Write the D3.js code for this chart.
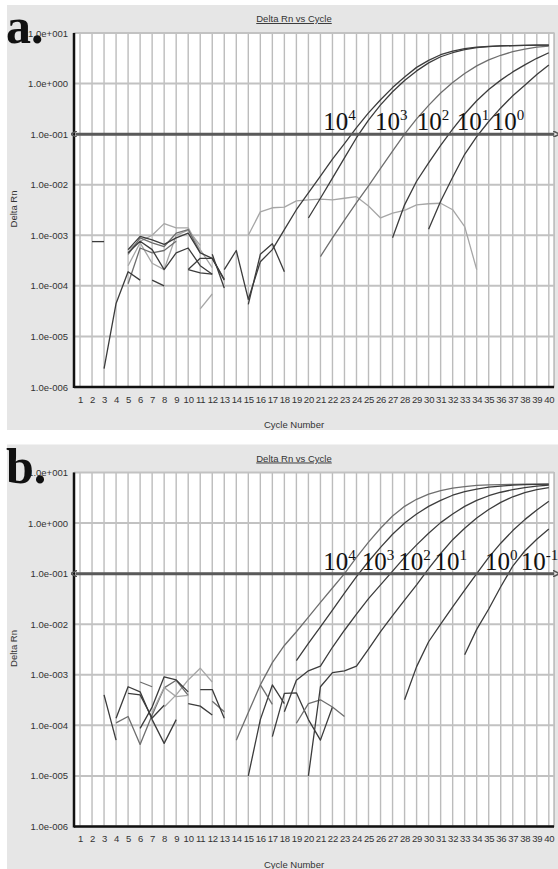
<!DOCTYPE html>
<html>
<head>
<meta charset="utf-8">
<script src="https://cdn.jsdelivr.net/npm/d3@7"></script>
<style>
  body { margin: 0; background: #fff; }
  text { font-family: "Liberation Sans", Arial, sans-serif; }
</style>
</head>
<body>
<svg id="chart" width="558" height="869"></svg>
<script>
// ---- axis values ----
const cycleTicks = d3.range(1, 41);
const decades = [1e-6, 1e-5, 1e-4, 1e-3, 1e-2, 1e-1, 1e0, 1e1];
const threshold = 0.1;

// ---- panel a: [cycle, delta Rn] ----
const aNoise1 = [[3, 2.3e-6], [4, 4.5e-5], [5, 1.9e-4], [6, 1.3e-4]];
const aNoise2 = [[2, 7.5e-4], [3, 7.5e-4]];
const aNoise3 = [[7, 1.3e-4], [8, 1.0e-4]];
const aNoise4 = [[11, 3.5e-5], [12, 6.9e-5]];
const aNoise5 = [[5, 5.2e-4], [6, 7.6e-4], [7, 1.0e-3], [8, 1.7e-3], [9, 1.4e-3], [10, 1.4e-3], [11, 5.2e-4], [12, 2.3e-4]];
const aNoise6 = [[5, 4.2e-4], [6, 8.9e-4], [7, 7.1e-4], [8, 6.0e-4], [9, 1.1e-3], [10, 1.3e-3], [11, 4.5e-4]];
const aNoise7 = [[5, 5.2e-4], [6, 9.5e-4], [7, 8.1e-4], [8, 6.6e-4], [9, 8.9e-4], [10, 1.1e-3], [11, 4.5e-4], [12, 3.5e-4], [13, 1.3e-4]];
const aNoise8 = [[5, 4.5e-4], [6, 7.6e-4], [7, 5.2e-4], [8, 2.1e-4], [9, 4.5e-4], [10, 5.6e-4], [11, 2.5e-4], [12, 1.7e-4]];
const aNoise9 = [[5, 1.1e-4], [6, 5.6e-4], [7, 4.5e-4], [8, 5.0e-4], [9, 7.6e-4]];
const aNoise10 = [[5, 2.5e-4], [6, 7.1e-4], [7, 2.8e-4], [8, 2.1e-4], [9, 1.0e-3], [10, 1.26e-3], [11, 6.3e-4]];
const aNoise11 = [[10, 2.1e-4], [11, 3.5e-4], [12, 3.5e-4], [13, 1.35e-4]];
const aNoise12 = [[10, 2.1e-4], [11, 1.8e-4], [12, 1.7e-4]];
const aNoise13 = [[12, 4.2e-4], [13, 9.1e-5]];
const aNoise14 = [[15, 4.3e-5], [16, 4.2e-4], [17, 6.8e-4], [18, 1.9e-4]];
const aFlat = [[15, 1.0e-3], [16, 2.9e-3], [17, 3.5e-3], [18, 3.6e-3], [19, 4.8e-3], [20, 5.0e-3], [21, 5.2e-3], [22, 5.0e-3], [23, 5.4e-3], [24, 5.8e-3], [25, 3.8e-3], [26, 2.2e-3], [27, 2.75e-3], [28, 3.1e-3], [29, 4.0e-3], [30, 4.2e-3], [31, 4.3e-3], [32, 3.2e-3], [33, 1.48e-3], [34, 2.1e-4]];
const a1e4r1 = [[13, 2.1e-4], [14, 5.0e-4], [15, 5.4e-5], [16, 3.0e-4], [17, 5.2e-4], [18, 1.29e-3], [19, 3.2e-3], [20, 6.9e-3], [21, 1.48e-2], [22, 3.2e-2], [23, 6.5e-2], [24, 0.135], [25, 0.263], [26, 0.479], [27, 0.832], [28, 1.35], [29, 2.09], [30, 2.88], [31, 3.72], [32, 4.37], [33, 4.90], [34, 5.25], [35, 5.43], [36, 5.56], [37, 5.62], [38, 5.69], [39, 5.75], [40, 5.75]];
const a1e4r2 = [[20, 2.2e-3], [21, 5.4e-3], [22, 1.35e-2], [23, 3.4e-2], [24, 8.5e-2], [25, 0.19], [26, 0.38], [27, 0.69], [28, 1.15], [29, 1.78], [30, 2.57], [31, 3.39], [32, 4.07], [33, 4.68], [34, 5.13], [35, 5.37], [36, 5.56], [37, 5.62], [38, 5.69], [39, 5.75], [40, 5.75]];
const a1e3 = [[21, 3.8e-4], [22, 8.9e-4], [23, 2.0e-3], [24, 4.4e-3], [25, 9.5e-3], [26, 2.1e-2], [27, 4.6e-2], [28, 0.1], [29, 0.2], [30, 0.37], [31, 0.65], [32, 1.05], [33, 1.58], [34, 2.24], [35, 2.95], [36, 3.63], [37, 4.27], [38, 4.79], [39, 5.25], [40, 5.5]];
const a1e2 = [[27, 8.9e-4], [28, 4.0e-3], [29, 1.17e-2], [30, 2.7e-2], [31, 6.0e-2], [32, 0.126], [33, 0.25], [34, 0.457], [35, 0.76], [36, 1.17], [37, 1.70], [38, 2.34], [39, 3.16], [40, 4.07]];
const a1e1 = [[30, 1.32e-3], [31, 4.7e-3], [32, 1.41e-2], [33, 4.0e-2], [34, 8.9e-2], [35, 0.178], [36, 0.33], [37, 0.575], [38, 0.93], [39, 1.51], [40, 2.34]];

const aLabelExp = ["4", "3", "2", "1", "0"];
const aLabelCycle = [21.24, 25.54, 29.01, 32.34, 35.25];

// ---- panel b: [cycle, delta Rn] ----
const bNoise1 = [[3, 4.0e-4], [4, 5.1e-5]];
const bNoise2 = [[4, 1.38e-4], [5, 5.8e-4], [6, 4.6e-4], [7, 1.3e-4], [8, 4.4e-5], [9, 1.3e-4]];
const bNoise3 = [[4, 1.12e-4], [5, 1.5e-4], [6, 4.2e-5], [7, 1.6e-4], [8, 5.5e-4], [9, 7.8e-4], [10, 3.9e-4]];
const bNoise4 = [[5, 4.3e-4], [6, 4.0e-4], [7, 1.4e-4], [8, 2.5e-4]];
const bNoise5 = [[6, 8.7e-5], [7, 2.3e-4], [8, 9.1e-4], [9, 7.9e-4], [10, 4.6e-4]];
const bNoise6 = [[6, 7.2e-4], [7, 5.8e-4]];
const bNoise7 = [[8, 2.3e-4], [9, 4.0e-4], [10, 7.9e-4], [11, 1.35e-3], [12, 7.2e-4]];
const bNoise8 = [[10, 2.7e-4], [11, 2.4e-4], [12, 1.6e-4]];
const bNoise9 = [[11, 5.1e-4], [12, 5.1e-4], [13, 1.38e-4]];
const bNoise10 = [[12, 3.0e-4], [13, 1.86e-4]];
const bNoise11 = [[7, 1.8e-4], [8, 5.6e-4], [9, 3.7e-4], [10, 3.9e-4]];
const bNoise12 = [[15, 1.0e-5], [16, 1.3e-4], [17, 6.3e-4], [18, 2.7e-4]];
const bNoise13 = [[16, 6.3e-4], [17, 2.6e-4]];
const bNoise14 = [[17, 6.0e-5], [18, 4.3e-4], [19, 4.4e-4], [20, 1.3e-4], [21, 5.1e-5], [22, 2.3e-4]];
const bNoise15 = [[19, 1.1e-4], [20, 2.7e-4], [21, 3.2e-4], [22, 2.3e-4], [23, 1.5e-4]];
const b1e4 = [[14, 5.1e-5], [15, 1.8e-4], [16, 6.3e-4], [17, 1.74e-3], [18, 3.8e-3], [19, 7.1e-3], [20, 1.38e-2], [21, 2.7e-2], [22, 5.2e-2], [23, 0.1], [24, 0.21], [25, 0.42], [26, 0.79], [27, 1.38], [28, 2.14], [29, 2.95], [30, 3.72], [31, 4.37], [32, 4.90], [33, 5.25], [34, 5.56], [35, 5.69], [36, 5.75], [37, 5.82], [38, 5.89], [39, 5.89], [40, 5.89]];
const b1e3 = [[19, 1.9e-3], [20, 4.2e-3], [21, 8.9e-3], [22, 1.9e-2], [23, 4.1e-2], [24, 8.7e-2], [25, 0.174], [26, 0.33], [27, 0.60], [28, 1.0], [29, 1.51], [30, 2.14], [31, 2.82], [32, 3.55], [33, 4.17], [34, 4.68], [35, 5.13], [36, 5.37], [37, 5.62], [38, 5.75], [39, 5.82], [40, 5.89]];
const b1e2 = [[18, 1.86e-4], [19, 7.8e-4], [20, 1.2e-3], [21, 1.48e-3], [22, 3.5e-3], [23, 7.6e-3], [24, 1.58e-2], [25, 3.2e-2], [26, 6.0e-2], [27, 0.112], [28, 0.21], [29, 0.37], [30, 0.63], [31, 1.02], [32, 1.51], [33, 2.14], [34, 2.82], [35, 3.47], [36, 4.07], [37, 4.57], [38, 5.01], [39, 5.37], [40, 5.62]];
const b1e1 = [[20, 1.0e-5], [21, 5.8e-4], [22, 1.1e-3], [23, 1.2e-3], [24, 1.48e-3], [25, 3.2e-3], [26, 7.1e-3], [27, 1.48e-2], [28, 3.0e-2], [29, 6.0e-2], [30, 0.126], [31, 0.25], [32, 0.47], [33, 0.79], [34, 1.26], [35, 1.86], [36, 2.57], [37, 3.31], [38, 3.98], [39, 4.57], [40, 5.01]];
const b1e0 = [[28, 3.2e-4], [29, 1.45e-3], [30, 4.5e-3], [31, 1.0e-2], [32, 2.2e-2], [33, 4.7e-2], [34, 0.1], [35, 0.21], [36, 0.40], [37, 0.71], [38, 1.17], [39, 1.82], [40, 2.69]];
const b1em1 = [[33, 2.5e-3], [34, 7.9e-3], [35, 2.0e-2], [36, 5.5e-2], [37, 0.141], [38, 0.28], [39, 0.48], [40, 0.76]];

const bLabelExp = ["4", "3", "2", "1", "0", "-1"];
const bLabelCycle = [21.24, 24.44, 27.48, 30.48, 34.69, 37.66];

const tone = { dark: "#3c3c3c", mid: "#6e6e6e", light: "#a6a6a6" };
const serif = "'Liberation Serif', 'Times New Roman', serif";
const sans = "'Liberation Sans', Arial, sans-serif";

const panels = [
  {
    letter: "a", offY: 0, labelExp: aLabelExp, labelCycle: aLabelCycle,
    series: [
      [aNoise5, "light"], [aNoise10, "light"], [aNoise6, "mid"], [aNoise9, "mid"], [aNoise4, "light"],
      [aNoise7, "dark"], [aNoise8, "dark"], [aNoise1, "dark"], [aNoise2, "dark"], [aNoise3, "dark"],
      [aNoise11, "dark"], [aNoise12, "dark"], [aNoise13, "dark"], [aNoise14, "dark"],
      [aFlat, "light"], [a1e3, "mid"], [a1e4r1, "dark"], [a1e4r2, "dark"], [a1e2, "dark"], [a1e1, "dark"]
    ]
  },
  {
    letter: "b", offY: 439.5, labelExp: bLabelExp, labelCycle: bLabelCycle,
    series: [
      [bNoise7, "light"], [bNoise3, "mid"], [bNoise11, "light"], [bNoise6, "mid"], [bNoise10, "mid"],
      [bNoise1, "dark"], [bNoise2, "dark"], [bNoise4, "dark"], [bNoise5, "dark"], [bNoise8, "dark"], [bNoise9, "dark"],
      [bNoise12, "dark"], [bNoise13, "mid"], [bNoise14, "dark"], [bNoise15, "mid"],
      [b1e4, "mid"], [b1e3, "dark"], [b1e2, "dark"], [b1e1, "dark"], [b1e0, "dark"], [b1em1, "dark"]
    ]
  }
];

const svg = d3.select("#chart");

const defs = svg.append("defs");
defs.append("marker").attr("id", "arrowR")
  .attr("viewBox", "0 0 6 6").attr("refX", 1).attr("refY", 3)
  .attr("markerWidth", 2.2).attr("markerHeight", 2.2).attr("orient", "auto")
  .append("path").attr("d", "M0,0 L6,3 L0,6").attr("fill", "none")
  .attr("stroke", "#555").attr("stroke-width", 1.4);
defs.append("marker").attr("id", "arrowL")
  .attr("viewBox", "0 0 6 6").attr("refX", 5).attr("refY", 3)
  .attr("markerWidth", 2.2).attr("markerHeight", 2.2).attr("orient", "auto")
  .append("path").attr("d", "M6,0 L0,3 L6,6").attr("fill", "none")
  .attr("stroke", "#555").attr("stroke-width", 1.4);

const fmtExp = (v) => {
  const e = Math.round(Math.log10(v));
  return "1.0e" + (e < 0 ? "-" : "+") + String(Math.abs(e)).padStart(3, "0");
};

function drawPanel(p) {
  const g = svg.append("g").attr("transform", `translate(0,${p.offY})`);
  const left = 74, right = 554, top = 33, bottom = 387;

  const x = d3.scaleLinear().domain([0.5, 40.43]).range([left, right]);
  const y = d3.scaleLog().domain([1e-6, 10]).range([bottom, top]);

  // grey frame
  g.append("rect").attr("x", 7).attr("y", 5).attr("width", 551).attr("height", 425)
    .attr("fill", "#e6e6e6");
  g.append("rect").attr("x", left).attr("y", top)
    .attr("width", right - left).attr("height", bottom - top)
    .attr("fill", "#fff").attr("stroke", "#9a9a9a").attr("stroke-width", 1);

  // grid
  g.append("g").selectAll("line").data(cycleTicks).join("line")
    .attr("x1", d => x(d)).attr("x2", d => x(d))
    .attr("y1", top).attr("y2", bottom)
    .attr("stroke", "#bcbcbc").attr("stroke-width", 1.4);
  g.append("g").selectAll("line").data(decades).join("line")
    .attr("x1", left).attr("x2", right)
    .attr("y1", d => y(d)).attr("y2", d => y(d))
    .attr("stroke", "#c2c2c2").attr("stroke-width", 2);

  // axes
  const yAxis = g.append("g").attr("transform", `translate(${left},0)`)
    .call(d3.axisLeft(y).tickValues(decades).tickFormat(fmtExp).tickSize(0).tickPadding(6));
  const xAxis = g.append("g").attr("transform", `translate(0,${bottom})`)
    .call(d3.axisBottom(x).tickValues(cycleTicks).tickSize(0).tickPadding(9));
  [yAxis, xAxis].forEach(a => {
    a.select(".domain").remove();
    a.selectAll("text").attr("fill", "#333").attr("font-size", 9.5).style("font-family", sans);
  });
  xAxis.selectAll("text").attr("letter-spacing", -0.2);

  g.append("line").attr("x1", left).attr("x2", left).attr("y1", top).attr("y2", bottom + 1)
    .attr("stroke", "#111").attr("stroke-width", 2.5);
  g.append("line").attr("x1", left).attr("x2", right).attr("y1", bottom).attr("y2", bottom)
    .attr("stroke", "#111").attr("stroke-width", 2.5);

  // titles
  g.append("text").attr("x", 294).attr("y", 22).attr("text-anchor", "middle")
    .attr("font-size", 9.5).attr("fill", "#333").attr("text-decoration", "underline")
    .text("Delta Rn vs Cycle");
  g.append("text").attr("x", 294).attr("y", 428).attr("text-anchor", "middle")
    .attr("font-size", 9.5).attr("fill", "#333").text("Cycle Number");
  g.append("text").attr("transform", `translate(17,209) rotate(-90)`)
    .attr("text-anchor", "middle").attr("font-size", 9.5).attr("fill", "#333")
    .text("Delta Rn");

  // curves
  const line = d3.line().x(d => x(d[0])).y(d => y(d[1]));
  g.append("g").selectAll("path").data(p.series).join("path")
    .attr("d", d => line(d[0]))
    .attr("fill", "none")
    .attr("stroke", d => tone[d[1]])
    .attr("stroke-width", 1.3)
    .attr("stroke-linejoin", "round");

  // threshold
  g.append("line").attr("x1", left + 2).attr("x2", right)
    .attr("y1", y(threshold)).attr("y2", y(threshold))
    .attr("stroke", "#5a5a5a").attr("stroke-width", 3)
    .attr("marker-start", "url(#arrowL)").attr("marker-end", "url(#arrowR)");

  // dilution labels
  const lab = g.append("g").selectAll("text").data(p.labelExp).join("text")
    .attr("x", (d, i) => x(p.labelCycle[i]))
    .attr("y", y(threshold) - 4)
    .style("font-family", serif)
    .attr("font-size", 25).attr("fill", "#111");
  lab.append("tspan").text("10");
  lab.append("tspan").attr("dy", -10).attr("font-size", 15).text(d => d);

  // panel letter
  g.append("text").attr("x", 6).attr("y", 43)
    .style("font-family", serif)
    .attr("font-weight", "bold").attr("font-size", 50).attr("fill", "#111")
    .text(p.letter + ".");
}

panels.forEach(drawPanel);
</script>
</body>
</html>
